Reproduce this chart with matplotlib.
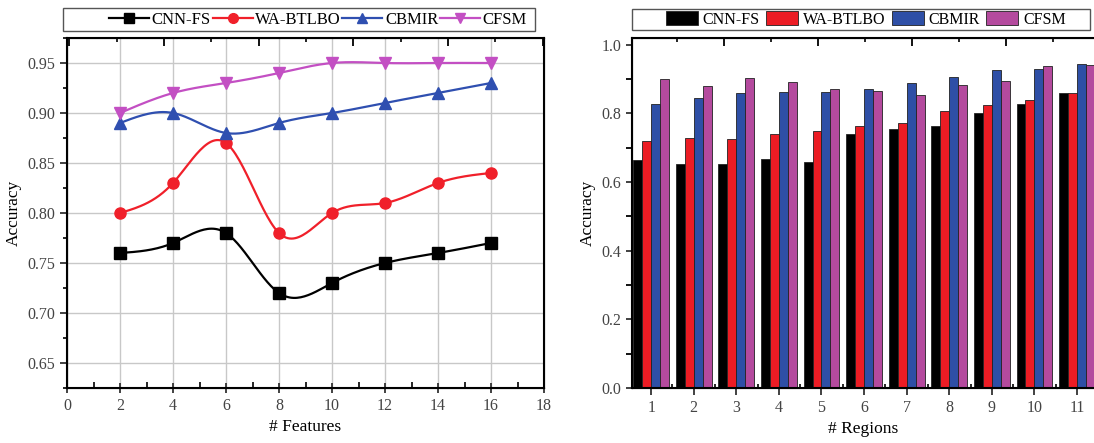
import numpy as np
import matplotlib
matplotlib.use("Agg")
import matplotlib.pyplot as plt
from matplotlib.patches import Rectangle
from matplotlib.ticker import MultipleLocator

plt.rcParams['font.family'] = ['Liberation Serif', 'DejaVu Serif']
plt.rcParams['font.size'] = 11

# left panel: accuracy vs number of features
features = [2, 4, 6, 8, 10, 12, 14, 16]
cnn_fs = [0.76, 0.77, 0.78, 0.72, 0.73, 0.75, 0.76, 0.77]
wa_btlbo = [0.80, 0.83, 0.87, 0.78, 0.80, 0.81, 0.83, 0.84]
cbmir = [0.89, 0.90, 0.88, 0.89, 0.90, 0.91, 0.92, 0.93]
cfsm = [0.90, 0.92, 0.93, 0.94, 0.95, 0.95, 0.95, 0.95]

# right panel: accuracy per region
regions = [1, 2, 3, 4, 5, 6, 7, 8, 9, 10, 11]
bar_cnn = [0.664, 0.652, 0.652, 0.667, 0.659, 0.741, 0.755, 0.764, 0.801, 0.827, 0.861]
bar_wa = [0.721, 0.730, 0.727, 0.741, 0.748, 0.765, 0.773, 0.806, 0.825, 0.839, 0.861]
bar_cbmir = [0.827, 0.844, 0.861, 0.864, 0.864, 0.872, 0.890, 0.907, 0.928, 0.930, 0.945]
bar_cfsm = [0.900, 0.879, 0.902, 0.893, 0.872, 0.865, 0.853, 0.883, 0.894, 0.939, 0.942]

names = ['CNN-FS', 'WA-BTLBO', 'CBMIR', 'CFSM']
line_colors = ['#000000', '#f0202a', '#2f4fb0', '#c34fc3']
bar_colors = ['#000000', '#ec1c24', '#2e4fa6', '#b44a9e']
markers = ['s', 'o', '^', 'v']


def natural_spline(x, y, n=200):
    # natural cubic spline through the data points, only for drawing the curve
    x = np.asarray(x, float)
    y = np.asarray(y, float)
    k = len(x)
    h = np.diff(x)
    A = np.zeros((k, k))
    r = np.zeros(k)
    A[0, 0] = A[-1, -1] = 1
    for i in range(1, k - 1):
        A[i, i - 1] = h[i - 1]
        A[i, i] = 2 * (h[i - 1] + h[i])
        A[i, i + 1] = h[i]
        r[i] = 6 * ((y[i + 1] - y[i]) / h[i] - (y[i] - y[i - 1]) / h[i - 1])
    M = np.linalg.solve(A, r)
    xs = np.linspace(x[0], x[-1], n)
    idx = np.clip(np.searchsorted(x, xs) - 1, 0, k - 2)
    x0, x1 = x[idx], x[idx + 1]
    hh = x1 - x0
    a = (x1 - xs) / hh
    b = (xs - x0) / hh
    ys = a * y[idx] + b * y[idx + 1] + ((a ** 3 - a) * M[idx] + (b ** 3 - b) * M[idx + 1]) * hh ** 2 / 6
    return xs, ys


W, H = 1094, 443
fig = plt.figure(figsize=(W / 100, H / 100), dpi=100)


def fig_rect(x0, y0, x1, y1):
    return [x0 / W, 1 - y1 / H, (x1 - x0) / W, (y1 - y0) / H]


# ---------- left panel ----------
ax1 = fig.add_axes(fig_rect(67, 38, 544, 388))
handles = []
for ys, c, m, nm in zip([cnn_fs, wa_btlbo, cbmir, cfsm], line_colors, markers, names):
    xs, yy = natural_spline(features, ys)
    ax1.plot(xs, yy, color=c, lw=1.6, zorder=3)
    ax1.plot(features, ys, ls='none', marker=m, color=c, ms=8, zorder=4)
    h, = ax1.plot([], [], color=c, marker=m, lw=1.6, ms=7, label=nm)
    handles.append(h)

ax1.set_xlim(0, 18)
ax1.set_ylim(0.625, 0.975)
ax1.xaxis.set_major_locator(MultipleLocator(2))
ax1.xaxis.set_minor_locator(MultipleLocator(1))
ax1.yaxis.set_major_locator(MultipleLocator(0.05))
ax1.yaxis.set_minor_locator(MultipleLocator(0.025))
ax1.yaxis.set_major_formatter(matplotlib.ticker.FormatStrFormatter('%.2f'))
ax1.grid(True, which='major', color='#c8c8c8', lw=1.0)
ax1.set_axisbelow(True)
ax1.tick_params(axis='x', which='major', direction='inout', length=7, width=1.3)
ax1.tick_params(axis='x', which='minor', direction='in', length=4, width=1.2)
ax1.tick_params(axis='y', which='major', direction='out', length=5, width=1.3)
ax1.tick_params(axis='y', which='minor', direction='out', length=3, width=1.2)
ax1.tick_params(labelsize=11.5, colors='#333333', labelcolor='#444444')
for s in ax1.spines.values():
    s.set_linewidth(1.5)
ax1.set_xlabel('# Features', fontsize=12.5)
ax1.set_ylabel('Accuracy', fontsize=12.5)

top1 = ax1.twiny()
top1.set_xlim(-0.05, 10.03)
top1.xaxis.set_major_locator(MultipleLocator(2))
top1.xaxis.set_minor_locator(MultipleLocator(1))
top1.tick_params(axis='x', which='major', direction='in', length=6, width=1.3, labeltop=False)
top1.tick_params(axis='x', which='minor', direction='in', length=3, width=1.2)

fig.patches.append(Rectangle((63 / W, 1 - 31 / H), (535 - 63) / W, 23 / H,
                             transform=fig.transFigure, fill=False,
                             edgecolor='#555555', lw=1.0))
fig.legend(handles=handles, loc='center', bbox_to_anchor=(318 / W, 1 - 19.5 / H),
           ncol=4, frameon=False, fontsize=12, handlelength=2.4, handletextpad=0.15,
           columnspacing=0.1, borderpad=0)

# ---------- right panel ----------
ax2 = fig.add_axes(fig_rect(632, 38, 1094, 388))
bw = 0.21
bar_handles = []
for i, (vals, c, nm) in enumerate(zip([bar_cnn, bar_wa, bar_cbmir, bar_cfsm], bar_colors, names)):
    b = ax2.bar(np.array(regions) + (i - 1.5) * bw, vals, width=bw, color=c,
                edgecolor='#222222', lw=0.6, label=nm)
    bar_handles.append(b)

ax2.set_xlim(0.55, 11.4)
ax2.set_ylim(0, 1.02)
ax2.set_xticks(regions)
ax2.xaxis.set_minor_locator(MultipleLocator(0.5))
ax2.yaxis.set_major_locator(MultipleLocator(0.2))
ax2.yaxis.set_minor_locator(MultipleLocator(0.1))
ax2.yaxis.set_major_formatter(matplotlib.ticker.FormatStrFormatter('%.1f'))
ax2.tick_params(axis='x', which='major', direction='out', length=5, width=1.3)
ax2.tick_params(axis='x', which='minor', direction='in', length=3, width=1.2)
ax2.tick_params(axis='y', which='both', direction='out', length=4, width=1.3)
ax2.tick_params(labelsize=11.5, colors='#333333', labelcolor='#444444')
for s in ax2.spines.values():
    s.set_linewidth(1.5)
ax2.spines['right'].set_visible(False)
ax2.set_xlabel('# Regions', fontsize=12.5)
ax2.set_ylabel('Accuracy', fontsize=12.5)

top2 = ax2.twiny()
top2.set_xlim(0.05, 9.86)
top2.xaxis.set_major_locator(MultipleLocator(2))
top2.xaxis.set_minor_locator(MultipleLocator(1))
top2.tick_params(axis='x', which='major', direction='in', length=6, width=1.3, labeltop=False)
top2.tick_params(axis='x', which='minor', direction='in', length=3, width=1.2)
top2.spines['right'].set_visible(False)

fig.patches.append(Rectangle((632 / W, 1 - 30 / H), (1090 - 632) / W, 21 / H,
                             transform=fig.transFigure, fill=False,
                             edgecolor='#555555', lw=1.0))
fig.legend(handles=bar_handles, loc='center', bbox_to_anchor=(866 / W, 1 - 19.5 / H),
           ncol=4, frameon=False, fontsize=11.5, handlelength=2.0, handleheight=1.0,
           handletextpad=0.3, columnspacing=0.4, borderpad=0)

fig.savefig('out.png', dpi=100)
